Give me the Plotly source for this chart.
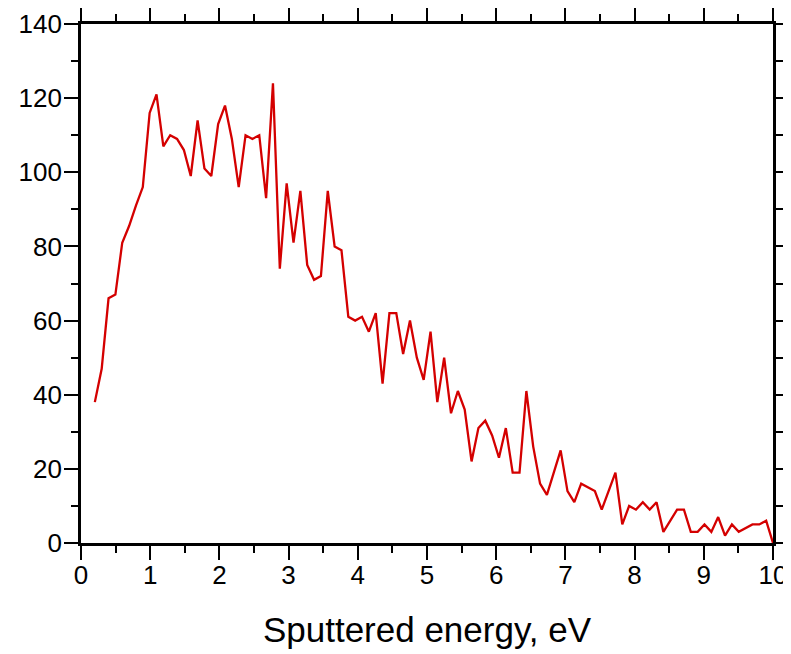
import plotly.graph_objects as go

# Sputtered energy (eV) sample points
energy = [0.200, 0.299, 0.398, 0.497, 0.596, 0.695, 0.794, 0.893, 0.992, 1.091,
          1.190, 1.289, 1.388, 1.487, 1.586, 1.685, 1.784, 1.883, 1.982, 2.081,
          2.180, 2.279, 2.378, 2.477, 2.576, 2.675, 2.774, 2.873, 2.972, 3.071,
          3.170, 3.269, 3.368, 3.467, 3.566, 3.665, 3.764, 3.863, 3.962, 4.061,
          4.160, 4.259, 4.358, 4.457, 4.556, 4.655, 4.754, 4.853, 4.952, 5.051,
          5.149, 5.248, 5.347, 5.446, 5.545, 5.644, 5.743, 5.842, 5.941, 6.040,
          6.139, 6.238, 6.337, 6.436, 6.535, 6.634, 6.733, 6.832, 6.931, 7.030,
          7.129, 7.228, 7.327, 7.426, 7.525, 7.624, 7.723, 7.822, 7.921, 8.020,
          8.119, 8.218, 8.317, 8.416, 8.515, 8.614, 8.713, 8.812, 8.911, 9.010,
          9.109, 9.208, 9.307, 9.406, 9.505, 9.604, 9.703, 9.802, 9.901, 10.000]

# Counts
counts = [38, 47, 66, 67, 81, 85.5, 91, 96, 116, 121,
          107, 110, 109, 106, 99, 114, 101, 99, 113, 118,
          109, 96, 110, 109, 110, 93, 124, 74, 97, 81,
          95, 75, 71, 72, 95, 80, 79, 61, 60, 61,
          57, 62, 43, 62, 62, 51, 60, 50, 44, 57,
          38, 50, 35, 41, 36, 22, 31, 33, 29, 23,
          31, 19, 19, 41, 26, 16, 13, 19, 25, 14,
          11, 16, 15, 14, 9, 14, 19, 5, 10, 9,
          11, 9, 11, 3, 6, 9, 9, 3, 3, 5,
          3, 7, 2, 5, 3, 4, 5, 5, 6, 0]

x_tick_vals = [0, 1, 2, 3, 4, 5, 6, 7, 8, 9, 10]
y_tick_vals = [0, 20, 40, 60, 80, 100, 120, 140]
x_title = "Sputtered energy, eV"

FONT = "Liberation Sans, Arial, sans-serif"

fig = go.Figure()
fig.add_trace(go.Scatter(
    x=energy, y=counts, mode="lines",
    line=dict(color="rgb(212,0,0)", width=2.3),
    showlegend=False, hoverinfo="skip", cliponaxis=True,
))

axis_common = dict(
    showline=True, linecolor="black", linewidth=2.8, mirror="ticks",
    ticks="outside", ticklen=14, tickwidth=1.5, tickcolor="black",
    showgrid=False, zeroline=False,
    tickfont=dict(family=FONT, size=26, color="black"),
)

fig.update_xaxes(
    range=[0, 10], tickvals=x_tick_vals, ticktext=[str(v) for v in x_tick_vals],
    minor=dict(dtick=0.5, ticks="outside", ticklen=7, tickwidth=1.5, tickcolor="black", showgrid=False),
    title=dict(text=x_title, font=dict(family=FONT, size=35, color="black"), standoff=29),
    ticklabelstandoff=-7,
    **axis_common,
)
fig.update_yaxes(
    range=[0, 140], tickvals=y_tick_vals, ticktext=[str(v) for v in y_tick_vals],
    minor=dict(dtick=10, ticks="outside", ticklen=7, tickwidth=1.5, tickcolor="black", showgrid=False),
    ticklabelstandoff=-3,
    **axis_common,
)

# page body has an 8px margin, so the figure is offset by (8, 8)
fig.update_layout(
    width=783, height=646,
    margin=dict(l=73, r=18, t=16, b=111, autoexpand=False),
    paper_bgcolor="white", plot_bgcolor="white",
)

fig.write_html("out.html")
